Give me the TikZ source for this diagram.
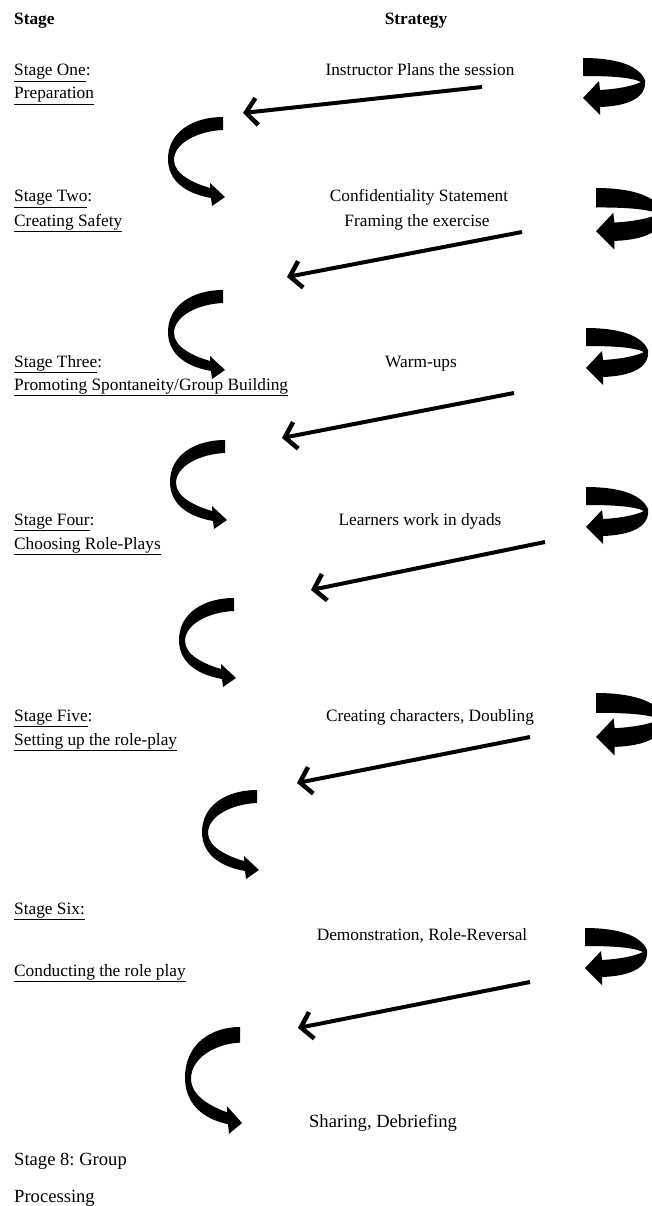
\documentclass[tikz,border=0pt]{standalone}
\usepackage{fontspec}
\setmainfont{Liberation Serif}
\usetikzlibrary{arrows.meta}
\frenchspacing

\begin{document}
\begin{tikzpicture}[x=1pt, y=-1pt,
  lab/.style={anchor=base west, inner sep=0pt, font=\fontsize{17.3}{20}\selectfont},
  strat/.style={anchor=base, inner sep=0pt, font=\fontsize{17.3}{20}\selectfont},
  head/.style={anchor=base, inner sep=0pt, font=\fontsize{17.3}{20}\selectfont\bfseries},
  late/.style={inner sep=0pt, font=\fontsize{18.6}{21}\selectfont},
  arr/.style={-{Straight Barb[length=11pt, width=27pt, line width=4.5pt]}, line width=4pt},
  cturn/.pic={\fill (0,0) -- (0,13) .. controls (-25,14) and (-49,26) .. (-49,43)
      .. controls (-49,57) and (-30,66) .. (-13,71) -- (-13,66) -- (2,80) -- (-11,89) -- (-12,81)
      .. controls (-40,76) and (-55,62) .. (-55,42) .. controls (-55,15) and (-30,0) .. (0,0) -- cycle;},
  rcurl/.pic={\fill (0,0) .. controls (30,0) and (55,6) .. (62,22)
      .. controls (64,40) and (45,48) .. (17,49) -- (17,57) -- (0,40) -- (16,23) -- (17,32)
      .. controls (35,31) and (50,28) .. (58,24) .. controls (48,19) and (25,18) .. (0,18) -- cycle;}
]
\useasboundingbox (0,0) rectangle (652,1206);

\node[head, anchor=base west] (stagehead) at (14,25) {Stage};
\node[head] (strathead) at (416,25) {Strategy};

\node[lab] (one) at (14,76) {\underline{Stage One}:};
\node[lab] (prep) at (14,99) {\underline{Preparation}};
\node[strat] (plans) at (420,76) {Instructor Plans the session};

\node[lab] (two) at (14,202) {\underline{Stage Two}:};
\node[lab] (safety) at (14,226) {\underline{Creating Safety}};
\node[strat] (conf) at (419,202) {Confidentiality Statement};
\node[strat] (frame) at (417,226) {Framing the exercise};

\node[lab] (three) at (14,367) {\underline{Stage Three}:};
\node[lab] (spont) at (14,390) {\underline{Promoting Spontaneity/Group Building}};
\node[strat] (warm) at (421,367) {Warm-ups};

\node[lab] (four) at (14,525) {\underline{Stage Four}:};
\node[lab] (choose) at (14,549) {\underline{Choosing Role-Plays}};
\node[strat] (dyads) at (420,525) {Learners work in dyads};

\node[lab] (five) at (14,721) {\underline{Stage Five}:};
\node[lab] (setup) at (14,745) {\underline{Setting up the role-play}};
\node[strat] (chars) at (430,721) {Creating characters, Doubling};

\node[lab] (six) at (14,914) {\underline{Stage Six:}};
\node[strat] (demo) at (422,940) {Demonstration, Role-Reversal};
\node[lab] (conduct) at (14,976) {\underline{Conducting the role play}};

\node[late, anchor=base] (share) at (383,1127) {Sharing, Debriefing};
\node[late, anchor=base west] (eight) at (14,1165) {Stage 8: Group};
\node[late, anchor=base west] (proc) at (14,1202) {Processing};

\pic at (583,58) {rcurl};
\pic[scale=1.08] at (596,188) {rcurl};
\pic at (586,328) {rcurl};
\pic at (586,487) {rcurl};
\pic[scale=1.1] at (596,693) {rcurl};
\pic at (585,928) {rcurl};

\coordinate (a1) at (482,87);  \coordinate (b1) at (243,113);
\coordinate (a2) at (522,232); \coordinate (b2) at (287,277);
\coordinate (a3) at (514,393); \coordinate (b3) at (282,438);
\coordinate (a4) at (545,542); \coordinate (b4) at (311,590);
\coordinate (a5) at (530,737); \coordinate (b5) at (297,783);
\coordinate (a6) at (530,982); \coordinate (b6) at (298,1028);
\draw[arr] (a1) -- (b1);
\draw[arr] (a2) -- (b2);
\draw[arr] (a3) -- (b3);
\draw[arr] (a4) -- (b4);
\draw[arr] (a5) -- (b5);
\draw[arr] (a6) -- (b6);

\pic at (223,117) {cturn};
\pic at (223,290) {cturn};
\pic at (225,440) {cturn};
\pic at (234,598) {cturn};
\pic at (257,790) {cturn};
\pic[yscale=1.2] at (240,1027) {cturn};
\end{tikzpicture}
\end{document}
